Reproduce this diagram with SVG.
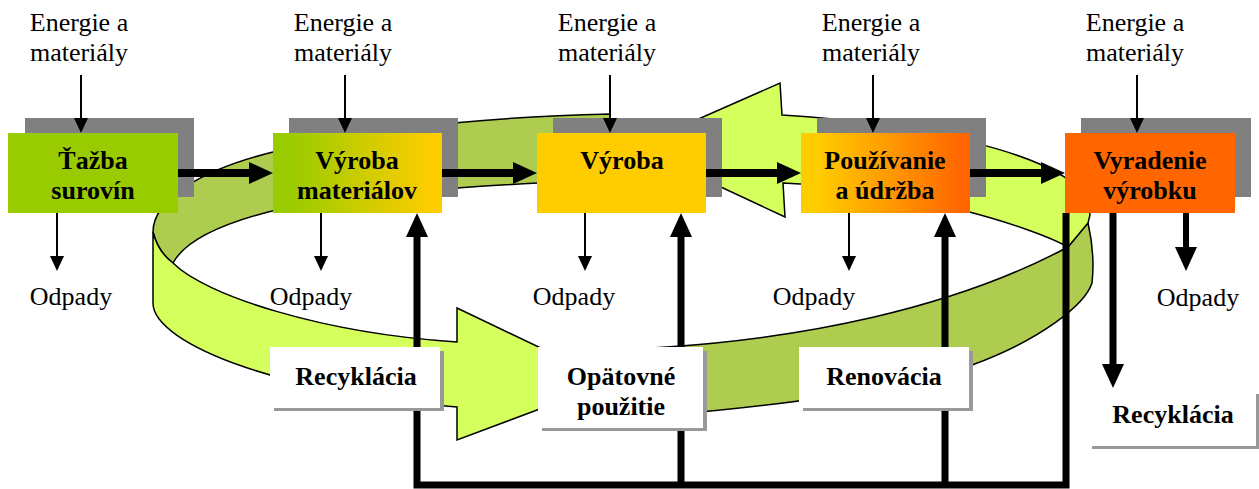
<svg xmlns="http://www.w3.org/2000/svg" width="1259" height="489" viewBox="0 0 1259 489">
<style>
text{font-family:"Liberation Serif","Times New Roman",serif;font-size:26px;fill:#000;text-anchor:middle}
.b{font-weight:bold}
.sh{fill:#808080}
.ring{stroke:#000;stroke-width:1.5;stroke-linejoin:miter}
.lg{fill:#D4FF5C}
.ol{fill:#ADCC50}
.thin{stroke:#000;stroke-width:2;fill:none}
.thick{stroke:#000;stroke-width:8;fill:none}
.ret{stroke:#000;stroke-width:7;fill:none;stroke-linejoin:miter}
.lbl{fill:#fff}
.lsh{fill:#999}
</style>
<defs>
<linearGradient id="gGY" x1="0" y1="0" x2="1" y2="0"><stop offset="0.1" stop-color="#99CC00"/><stop offset="0.95" stop-color="#FFCC00"/></linearGradient>
<linearGradient id="gYO" x1="0" y1="0" x2="1" y2="0"><stop offset="0.1" stop-color="#FFCC00"/><stop offset="0.95" stop-color="#FF6600"/></linearGradient>
<marker id="mThin" markerUnits="userSpaceOnUse" markerWidth="15" markerHeight="14" refX="0" refY="7" orient="auto" overflow="visible"><path d="M0,0 L15,7 L0,14 Z" fill="#000"/></marker>
<marker id="mThick" markerUnits="userSpaceOnUse" markerWidth="24" markerHeight="22" refX="0" refY="11" orient="auto" overflow="visible"><path d="M0,0 L24,11 L0,22 Z" fill="#000"/></marker>
</defs>
<rect width="1259" height="489" fill="#fff"/>

<g id="cycle" class="ring">
<path class="ol" d="M153,232 C153,200 200,170 273,152 C340,135 450,118 610,114 L610,180 C560,181 500,185 457,188 C310,193 195,222 173,263 Q158,252 153,232 Z"/>
<path class="lg" d="M153,232 Q158,252 173,263 C205,295 320,333 457,342 L457,308 L612,382 L457,440 L457,407 C290,395 153,345 153,303 Z"/>
<path class="ol" d="M620,350 L667,347 C800,338 950,310 1068,247 L1088,223 C1093,245 1094,265 1092,283 C1085,305 1040,340 972,365 C900,390 780,405 680,414 L620,420 Z"/>
<path class="lg" d="M635,147 L780,83 L782,115 C900,122 1060,150 1088,200 L1090,215 L1088,223 L1068,247 C1035,228 910,188 783,183 L785,217 Z"/>
</g>

<g id="node-tazba">
<rect class="sh" x="25" y="118" width="169" height="79"/>
<rect x="8" y="133" width="170" height="80" fill="#99CC00"/>
<text class="b" x="93" y="169">Ťažba</text>
<text class="b" x="93" y="199">surovín</text>
</g>
<g id="node-vyroba-materialov">
<rect class="sh" x="289" y="118" width="169" height="79"/>
<rect x="273" y="133" width="169" height="80" fill="url(#gGY)"/>
<text class="b" x="357" y="169">Výroba</text>
<text class="b" x="357" y="199">materiálov</text>
</g>
<g id="node-vyroba">
<rect class="sh" x="553" y="118" width="169" height="79"/>
<rect x="537" y="133" width="169" height="80" fill="#FFCC00"/>
<text class="b" x="622" y="169">Výroba</text>
</g>
<g id="node-pouzivanie">
<rect class="sh" x="817" y="118" width="169" height="79"/>
<rect x="801" y="133" width="169" height="80" fill="url(#gYO)"/>
<text class="b" x="885" y="169">Používanie</text>
<text class="b" x="885" y="199">a údržba</text>
</g>
<g id="node-vyradenie">
<rect class="sh" x="1081" y="118" width="170" height="79"/>
<rect x="1065" y="133" width="170" height="80" fill="#FF6600"/>
<text class="b" x="1150" y="169">Vyradenie</text>
<text class="b" x="1150" y="199">výrobku</text>
</g>

<g id="node-energie-1"><text x="79" y="31">Energie a</text><text x="79" y="61">materiály</text></g>
<g id="node-energie-2"><text x="343" y="31">Energie a</text><text x="343" y="61">materiály</text></g>
<g id="node-energie-3"><text x="607" y="31">Energie a</text><text x="607" y="61">materiály</text></g>
<g id="node-energie-4"><text x="871" y="31">Energie a</text><text x="871" y="61">materiály</text></g>
<g id="node-energie-5"><text x="1135" y="31">Energie a</text><text x="1135" y="61">materiály</text></g>

<g id="node-odpady-1"><text x="71" y="305">Odpady</text></g>
<g id="node-odpady-2"><text x="311" y="305">Odpady</text></g>
<g id="node-odpady-3"><text x="574" y="305">Odpady</text></g>
<g id="node-odpady-4"><text x="814" y="305">Odpady</text></g>
<g id="node-odpady-5"><text x="1198" y="306">Odpady</text></g>

<g id="connectors">
<path class="thin" d="M81,75 V118" marker-end="url(#mThin)"/>
<path class="thin" d="M345,75 V118" marker-end="url(#mThin)"/>
<path class="thin" d="M610,75 V118" marker-end="url(#mThin)"/>
<path class="thin" d="M873,75 V118" marker-end="url(#mThin)"/>
<path class="thin" d="M1137,75 V118" marker-end="url(#mThin)"/>
<path class="thin" d="M57,213 V256" marker-end="url(#mThin)"/>
<path class="thin" d="M321,213 V256" marker-end="url(#mThin)"/>
<path class="thin" d="M585,213 V256" marker-end="url(#mThin)"/>
<path class="thin" d="M849,213 V256" marker-end="url(#mThin)"/>
<path class="thick" d="M178,173 H249" marker-end="url(#mThick)"/>
<path class="thick" d="M442,173 H513" marker-end="url(#mThick)"/>
<path class="thick" d="M706,173 H777" marker-end="url(#mThick)"/>
<path class="thick" d="M970,173 H1041" marker-end="url(#mThick)"/>
<path class="ret" style="stroke-width:6" d="M1186,213 V247" marker-end="url(#mThick)"/>
<path class="ret" d="M1113,213 V364" marker-end="url(#mThick)"/>
<path class="ret" d="M1066,213 V485 H417 V237" marker-end="url(#mThick)"/>
<path class="ret" d="M681,485 V237" marker-end="url(#mThick)"/>
<path class="ret" d="M945,485 V237" marker-end="url(#mThick)"/>
</g>

<g id="node-recyklacia-1">
<rect class="lsh" x="274" y="351" width="170" height="60"/>
<rect class="lbl" x="270" y="347" width="170" height="61"/>
<text class="b" x="356" y="385">Recyklácia</text>
</g>
<g id="node-opatovne">
<rect class="lsh" x="542" y="351" width="165" height="80"/>
<rect class="lbl" x="538" y="347" width="165" height="81"/>
<text class="b" x="621" y="385">Opätovné</text>
<text class="b" x="621" y="415">použitie</text>
</g>
<g id="node-renovacia">
<rect class="lsh" x="803" y="351" width="170" height="60"/>
<rect class="lbl" x="799" y="347" width="170" height="61"/>
<text class="b" x="884" y="385">Renovácia</text>
</g>
<g id="node-recyklacia-2">
<rect class="lsh" x="1092" y="394" width="167" height="55"/>
<rect class="lbl" x="1088" y="390" width="168" height="56"/>
<text class="b" x="1173" y="423">Recyklácia</text>
</g>
</svg>
